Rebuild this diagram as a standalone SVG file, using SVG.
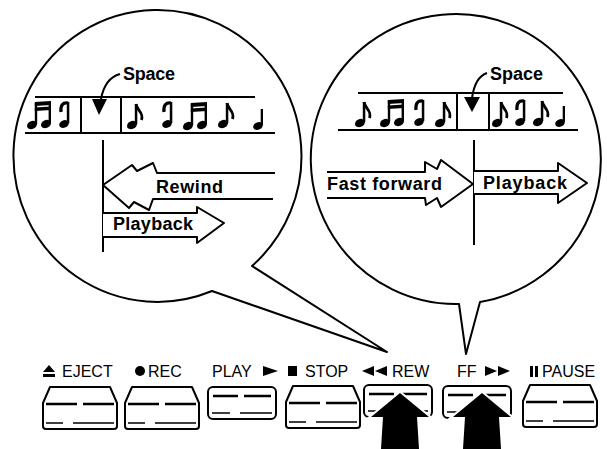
<svg xmlns="http://www.w3.org/2000/svg" xmlns:xlink="http://www.w3.org/1999/xlink" width="607" height="449" viewBox="0 0 607 449">
<style>
.ol{fill:#fff;stroke:#000;stroke-width:2;stroke-linejoin:round}
.ln{fill:none;stroke:#000;stroke-width:2}
.lbl{font-family:"Liberation Sans",Arial,sans-serif;font-weight:bold;font-size:18px;fill:#000}
.btn{font-family:"Liberation Sans",Arial,sans-serif;font-size:16px;fill:#000}
.blk{fill:#000}
</style>
<defs>
<g id="n8">
<ellipse cx="0" cy="0" rx="5.2" ry="3.9" transform="rotate(-25)" fill="#000"/>
<rect x="2.8" y="-21" width="2.5" height="20" fill="#000"/>
<path d="M4,-21 C5,-14 12,-13 9.5,-5" fill="none" stroke="#000" stroke-width="2.8"/>
</g>
<g id="nq">
<ellipse cx="0" cy="0" rx="5" ry="3.7" transform="rotate(-25)" fill="#000"/>
<rect x="2.7" y="-17" width="2.3" height="16" fill="#000"/>
</g>
<g id="nc">
<ellipse cx="0" cy="0" rx="5" ry="3.7" transform="rotate(-25)" fill="#000"/>
<rect x="2.8" y="-22" width="2.5" height="21" fill="#000"/>
<path d="M4,-21 Q-4,-22 -3,-12" fill="none" stroke="#000" stroke-width="3.2"/>
</g>
<g id="n16">
<ellipse cx="0" cy="0" rx="5.2" ry="3.9" transform="rotate(-25)" fill="#000"/>
<ellipse cx="14" cy="-1" rx="5.2" ry="3.9" transform="rotate(-25 14 -1)" fill="#000"/>
<rect x="2.8" y="-22" width="2.4" height="21" fill="#000"/>
<rect x="16.6" y="-23" width="2.4" height="21" fill="#000"/>
<polygon points="2.8,-23 19,-24 19,-20 2.8,-19" fill="#000"/>
<polygon points="2.8,-17.5 19,-18.5 19,-15 2.8,-14" fill="#000"/>
</g>
<g id="btnUp">
<path class="ol" d="M7,0 L67,0 L74,16 L74,39 Q74,42 71,42 L3,42 Q0,42 0,39 L0,16 Z"/>
<path d="M3,17 H34 M40,17 H71" stroke="#000" stroke-width="2.4"/>
<path d="M3,36 H20 M30,36 H71" stroke="#000" stroke-width="1.6"/>
</g>
<g id="btnDown">
<rect class="ol" x="0" y="0" width="68" height="32" rx="5"/>
<path d="M5,9 H30 M36,9 H63" stroke="#000" stroke-width="2.6"/>
<path d="M4,26 H22 M32,26 H64" stroke="#000" stroke-width="1.4"/>
</g>
<g id="bigArrow">
<polygon points="0,0 29,24 17,24 19,56 -19,56 -17,24 -29,24" fill="#000" stroke="#fff" stroke-width="4" stroke-linejoin="miter"/>
<polygon points="0,0 29,24 17,24 19,56 -19,56 -17,24 -29,24" fill="#000"/>
</g>
</defs>
<rect width="607" height="449" fill="#fff"/>

<g id="bubble-rewind">
<path class="ol" d="M252,266 L387,352 L212,291 A144 146 0 1 1 252,266 Z"/>
<text class="lbl" x="123" y="80" font-size="17" textLength="52">Space</text>
<path class="ln" d="M120,74 Q105,78 101,99"/>
<polygon class="blk" points="92,99 107,99 99,115"/>
<path class="ln" d="M35,97 H255 M25,133 H275 M81,97 V133 M121,97 V133"/>
<use xlink:href="#n16" x="32" y="125"/>
<use xlink:href="#nc" x="64" y="124"/>
<use xlink:href="#n8" x="132" y="125"/>
<use xlink:href="#nc" x="167" y="124"/>
<use xlink:href="#n16" x="188" y="126"/>
<use xlink:href="#n8" x="223" y="124"/>
<use xlink:href="#nq" x="258" y="126"/>
<path class="ln" d="M103,140 V252"/>
<path class="ol" d="M275,173 L157,173 L153,163 L137,171 L132,165 L103,185 L129,208 L134,202 L149,210 L153,199 L273,199"/>
<text class="lbl" x="156" y="193" textLength="67">Rewind</text>
<path class="ol" d="M103,213 L197,213 L197,207 L224,223 L197,243 L197,237 L103,237"/>
<text class="lbl" x="113" y="230" textLength="80">Playback</text>
</g>

<g id="bubble-ff">
<path class="ol" d="M480,302 L466,354 L459,304 A145 145 0 1 1 480,302 Z"/>
<text class="lbl" x="490" y="80" font-size="17" textLength="53">Space</text>
<path class="ln" d="M487,73 Q475,77 472,98"/>
<polygon class="blk" points="464,97 480,97 472,112"/>
<path class="ln" d="M358,93 H563 M338,130 H578 M457,93 V130 M489,93 V130"/>
<use xlink:href="#n8" x="360" y="123"/>
<use xlink:href="#n16" x="385" y="123"/>
<use xlink:href="#nc" x="419" y="122"/>
<use xlink:href="#n8" x="440" y="123"/>
<use xlink:href="#n8" x="497" y="123"/>
<use xlink:href="#nc" x="520" y="122"/>
<use xlink:href="#n8" x="538" y="122"/>
<use xlink:href="#nq" x="560" y="123"/>
<path class="ln" d="M474,140 V245"/>
<path class="ol" d="M327,172 L425,172 L425,162 L437,169 L441,160 L473,184 L441,207 L437,198 L426,205 L425,198 L327,198"/>
<text class="lbl" x="327" y="190" textLength="115">Fast forward</text>
<path class="ol" d="M474,171 L558,171 L558,163 L587,183 L558,203 L558,194 L474,194"/>
<text class="lbl" x="483" y="189" textLength="84">Playback</text>
</g>

<g id="labels">
<polygon class="blk" points="43,372 55,372 49,365"/>
<rect class="blk" x="43" y="374" width="12" height="3"/>
<text class="btn" x="62" y="377">EJECT</text>
<circle class="blk" cx="140" cy="371" r="5"/>
<text class="btn" x="148" y="377">REC</text>
<text class="btn" x="212" y="377">PLAY</text>
<polygon class="blk" points="263,366 278,371 263,376"/>
<rect class="blk" x="288" y="366" width="9" height="10"/>
<text class="btn" x="305" y="377">STOP</text>
<polygon class="blk" points="374,366 362,371 374,376"/>
<polygon class="blk" points="387,366 375,371 387,376"/>
<text class="btn" x="392" y="377">REW</text>
<text class="btn" x="457" y="377">FF</text>
<polygon class="blk" points="485,366 497,371 485,376"/>
<polygon class="blk" points="498,366 510,371 498,376"/>
<rect class="blk" x="530" y="366" width="3" height="11"/>
<rect class="blk" x="535" y="366" width="3" height="11"/>
<text class="btn" x="542" y="377">PAUSE</text>
</g>

<g id="buttons">
<use xlink:href="#btnUp" x="43" y="387"/>
<use xlink:href="#btnUp" x="125" y="387"/>
<use xlink:href="#btnDown" x="208" y="387"/>
<use xlink:href="#btnUp" x="286" y="386"/>
<use xlink:href="#btnDown" x="364" y="385"/>
<use xlink:href="#btnDown" x="443" y="386"/>
<use xlink:href="#btnUp" x="523" y="385"/>
</g>

<g id="connectors">
<use xlink:href="#bigArrow" x="400" y="393"/>
<use xlink:href="#bigArrow" x="482" y="393"/>
</g>
</svg>
